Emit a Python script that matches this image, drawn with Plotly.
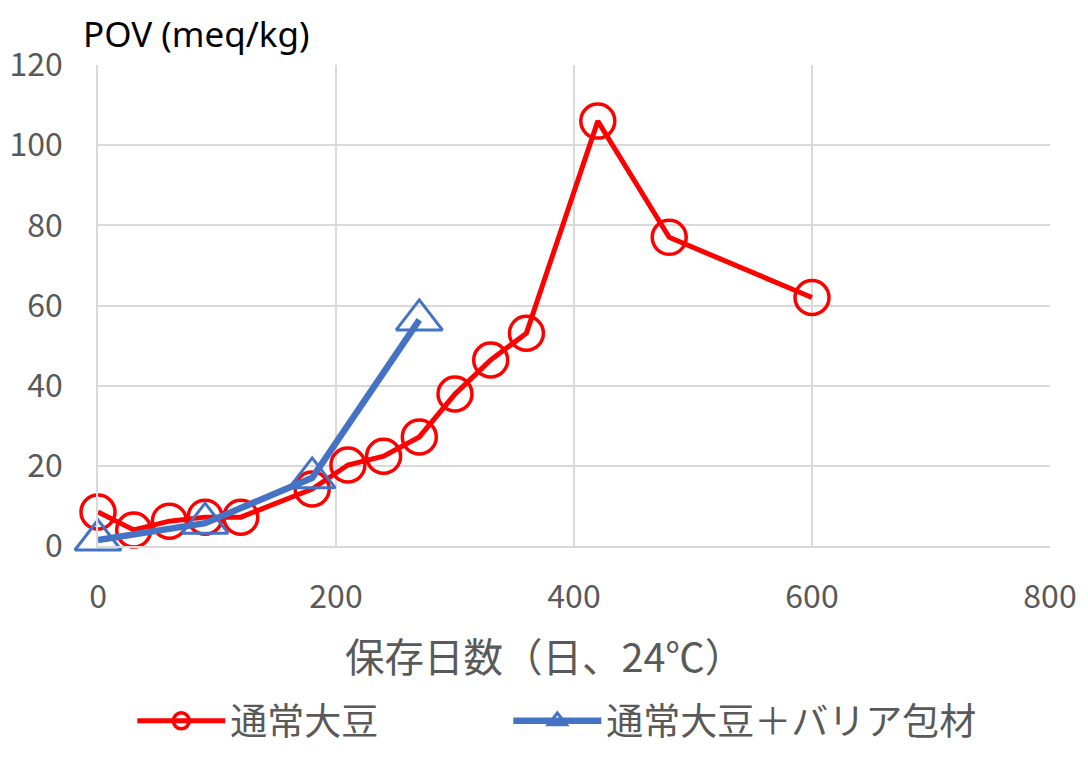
import plotly.graph_objects as go

days_a = [0, 30, 60, 90, 120, 180, 210, 240, 270, 300, 330, 360, 420, 480, 600]
pov_a = [8.5, 4.0, 6.2, 7.2, 7.2, 14.2, 20.2, 22.4, 27.2, 37.9, 46.4, 53.1, 106, 77, 62]

days_b = [0, 90, 180, 270]
pov_b = [1.5, 5.7, 17.0, 56.4]

name_a = "通常大豆"
name_b = "通常大豆＋バリア包材"

x_ticks = [0, 200, 400, 600, 800]
y_ticks = [0, 20, 40, 60, 80, 100, 120]

x_title = "保存日数（日、24℃）"
y_title = "POV (meq/kg)"

FONT = "Noto Sans CJK JP"

fig = go.Figure()
fig.add_trace(go.Scatter(
    x=days_a, y=pov_a, name=name_a, mode="lines+markers", cliponaxis=False, legend="legend",
    line=dict(color="#ff0000", width=5),
    marker=dict(symbol="circle-open", size=34, color="#ff0000", line=dict(width=3.5, color="#ff0000")),
))
fig.add_trace(go.Scatter(
    x=days_b, y=pov_b, name=name_b, mode="lines+markers", cliponaxis=False, legend="legend2",
    line=dict(color="#4472c4", width=6.5),
    marker=dict(symbol="triangle-up-open", size=40, color="#4472c4", line=dict(width=3, color="#4472c4")),
))

legend_style = dict(orientation="h", xanchor="left", y=-0.30, yanchor="top",
                    font=dict(size=37, color="#595959"), itemwidth=88, bgcolor="rgba(0,0,0,0)")

fig.update_layout(
    width=1088, height=780,
    margin=dict(l=90, r=46, t=57, b=242),
    paper_bgcolor="white", plot_bgcolor="white",
    font=dict(family=FONT, color="#595959", size=30),
    showlegend=True,
    legend=dict(x=0.036, **legend_style),
    legend2=dict(x=0.431, **legend_style),
    xaxis=dict(range=[0, 800], tickvals=x_ticks, showgrid=True, gridcolor="#d9d9d9", gridwidth=1.5,
               zeroline=False, showline=True, linecolor="#d9d9d9", linewidth=1.5, automargin=False,
               tickfont=dict(size=32, color="#595959"), ticks="", ticklabelstandoff=22),
    yaxis=dict(range=[0, 120], tickvals=y_ticks, showgrid=True, gridcolor="#d9d9d9", gridwidth=1.5,
               zeroline=False, showline=True, linecolor="#d9d9d9", linewidth=1.5, automargin=False,
               tickfont=dict(size=32, color="#595959"), ticks="", ticklabelstandoff=27),
    annotations=[
        dict(text=y_title, xref="paper", yref="paper", x=-0.018, y=1.066,
             xanchor="left", yanchor="middle", showarrow=False,
             font=dict(size=35, color="#000000", family="Noto Sans")),
        dict(text=x_title, xref="paper", yref="paper", x=0.4685, y=-0.226,
             xanchor="center", yanchor="middle", showarrow=False,
             font=dict(size=39.5, color="#595959", family=FONT)),
    ],
)

fig.write_html("out.html")
